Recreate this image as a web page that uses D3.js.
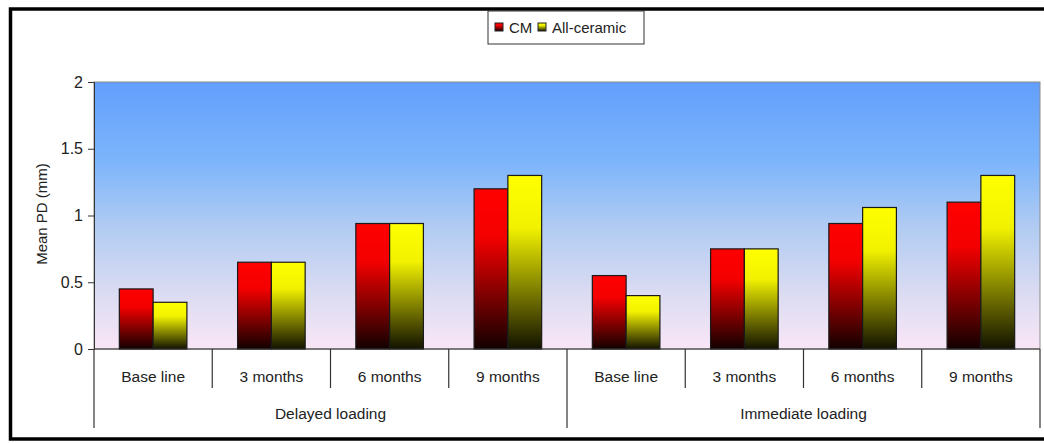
<!DOCTYPE html>
<html>
<head>
<meta charset="utf-8">
<script src="https://cdn.jsdelivr.net/npm/d3@7/dist/d3.min.js"></script>
<style>
  html, body { margin: 0; padding: 0; background: #fff; }
  svg text { font-family: "Liberation Sans", Arial, sans-serif; fill: #222; }
</style>
</head>
<body>
<svg id="chart" width="1044" height="443"></svg>
<script>
// categories and series
var groups = ["Delayed loading", "Immediate loading"];
var periods = ["Base line", "3 months", "6 months", "9 months"];
var series = ["CM", "All-ceramic"];

// mean PD (mm) per period, delayed first then immediate
var cmValues = [0.45, 0.65, 0.94, 1.2, 0.55, 0.75, 0.94, 1.1];
var ceramicValues = [0.35, 0.65, 0.94, 1.3, 0.4, 0.75, 1.06, 1.3];

var yTicks = [0, 0.5, 1, 1.5, 2];

var svg = d3.select("#chart");
var plotLeft = 94, plotRight = 1040, plotTop = 82, plotBottom = 349;

// flatten to one row per (group, period)
var rows = [];
groups.forEach(function(g, gi) {
  periods.forEach(function(p, pi) {
    var i = gi * periods.length + pi;
    rows.push({ key: i, group: g, period: p, values: [cmValues[i], ceramicValues[i]] });
  });
});

var x0 = d3.scaleBand().domain(rows.map(function(d) { return d.key; })).range([plotLeft, plotRight]);
var x1 = d3.scaleBand().domain(series).range([0, x0.bandwidth()]).paddingInner(0).paddingOuter(0.75);
var xg = d3.scaleBand().domain(groups).range([plotLeft, plotRight]);
var y = d3.scaleLinear().domain([0, 2]).range([plotBottom, plotTop]);

var defs = svg.append("defs");
var bg = defs.append("linearGradient").attr("id", "bg").attr("x1", 0).attr("y1", 0).attr("x2", 0).attr("y2", 1);
[["0%", "#629ffd"], ["30%", "#7db5fb"], ["55%", "#b2ccf2"], ["80%", "#dcdcf2"], ["100%", "#f9e6f6"]].forEach(function(s) {
  bg.append("stop").attr("offset", s[0]).attr("stop-color", s[1]);
});

var barColors = { "CM": ["#ff0000", "#f40000", "#120000"], "All-ceramic": ["#ffff00", "#f2f200", "#121200"] };
series.forEach(function(s, i) {
  var g = defs.append("linearGradient").attr("id", "bar" + i).attr("x1", 0).attr("y1", 0).attr("x2", 0).attr("y2", 1);
  g.append("stop").attr("offset", "0%").attr("stop-color", barColors[s][0]);
  g.append("stop").attr("offset", "30%").attr("stop-color", barColors[s][1]);
  g.append("stop").attr("offset", "100%").attr("stop-color", barColors[s][2]);
});

// outer frame
svg.append("rect")
  .attr("x", 10.5).attr("y", 9).attr("width", 1045).attr("height", 430)
  .attr("fill", "#fff").attr("stroke", "#000").attr("stroke-width", 3.5);

// plot area
svg.append("rect")
  .attr("x", plotLeft).attr("y", plotTop).attr("width", plotRight - plotLeft).attr("height", plotBottom - plotTop)
  .attr("fill", "url(#bg)").attr("stroke", "#8a8a8a").attr("stroke-width", 1);

// bars
var cat = svg.append("g").selectAll("g")
  .data(rows).enter()
  .append("g")
  .attr("transform", function(d) { return "translate(" + x0(d.key) + ",0)"; });

cat.selectAll("rect")
  .data(function(d) { return d.values.map(function(v, i) { return { s: series[i], i: i, v: v }; }); })
  .enter().append("rect")
  .attr("x", function(d) { return x1(d.s); })
  .attr("y", function(d) { return y(d.v); })
  .attr("width", x1.bandwidth())
  .attr("height", function(d) { return y(0) - y(d.v); })
  .attr("fill", function(d) { return "url(#bar" + d.i + ")"; })
  .attr("stroke", "#1a1a1a").attr("stroke-width", 1.2);

// y axis
var yAxis = svg.append("g")
  .attr("transform", "translate(" + plotLeft + ",0)")
  .call(d3.axisLeft(y).tickValues(yTicks).tickFormat(d3.format("")).tickSize(6).tickPadding(5));
yAxis.selectAll("text").style("font-size", "16px").style("fill", "#222");
yAxis.selectAll("line, path").attr("stroke", "#333");

svg.append("text")
  .attr("transform", "translate(47,214) rotate(-90)")
  .attr("text-anchor", "middle")
  .style("font-size", "15px")
  .text("Mean PD  (mm)");

// category axis: baseline, dividers, labels
var axisColor = "#333";
svg.append("line")
  .attr("x1", plotLeft).attr("x2", plotRight).attr("y1", y(0)).attr("y2", y(0))
  .attr("stroke", axisColor).attr("stroke-width", 1.2);

var dividers = d3.range(rows.length + 1);
svg.append("g").selectAll("line")
  .data(dividers).enter().append("line")
  .attr("x1", function(i) { return plotLeft + i * x0.step(); })
  .attr("x2", function(i) { return plotLeft + i * x0.step(); })
  .attr("y1", y(0))
  .attr("y2", function(i) { return i % periods.length === 0 ? 428 : 388; })
  .attr("stroke", axisColor).attr("stroke-width", 1.2);

svg.append("g").selectAll("text")
  .data(rows).enter().append("text")
  .attr("x", function(d) { return x0(d.key) + x0.bandwidth() / 2; })
  .attr("y", 382)
  .attr("text-anchor", "middle")
  .style("font-size", "15.5px")
  .text(function(d) { return d.period; });

svg.append("g").selectAll("text")
  .data(groups).enter().append("text")
  .attr("x", function(d) { return xg(d) + xg.bandwidth() / 2; })
  .attr("y", 419)
  .attr("text-anchor", "middle")
  .style("font-size", "15.5px")
  .text(function(d) { return d; });

// legend
var legend = svg.append("g").attr("transform", "translate(488,11)");
legend.append("rect")
  .attr("width", 156).attr("height", 33)
  .attr("fill", "#fff").attr("stroke", "#333").attr("stroke-width", 1);
var legendX = [7, 50];
var item = legend.selectAll("g.item")
  .data(series).enter().append("g")
  .attr("class", "item")
  .attr("transform", function(d, i) { return "translate(" + legendX[i] + ",0)"; });
item.append("rect")
  .attr("x", 0).attr("y", 12).attr("width", 8).attr("height", 8)
  .attr("fill", function(d, i) { return "url(#bar" + i + ")"; })
  .attr("stroke", "#222").attr("stroke-width", 1);
item.append("text")
  .attr("x", 14).attr("y", 22)
  .style("font-size", "15px")
  .text(function(d) { return d; });
</script>
</body>
</html>
